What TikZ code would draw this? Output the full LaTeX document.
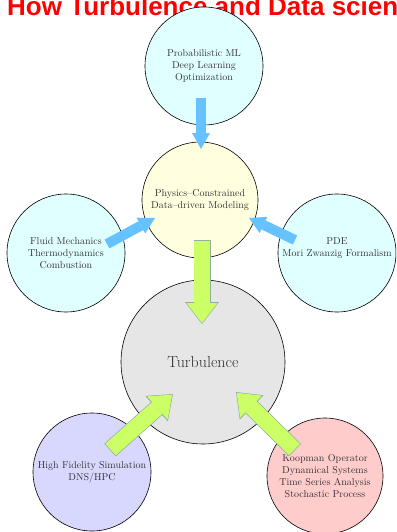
\documentclass[tikz,border=0pt]{standalone}
\usepackage{fontspec}
\usepackage{tikz}
\usetikzlibrary{arrows.meta,positioning,calc}
\newfontfamily\titlefont{Liberation Sans}
\definecolor{bubblecyan}{HTML}{E0FFFF}
\definecolor{bubbleyellow}{HTML}{FFFFE0}
\definecolor{bubblegray}{HTML}{E6E6E6}
\definecolor{bubbleblue}{HTML}{D8D8FF}
\definecolor{bubblepink}{HTML}{FFCCCC}
\definecolor{arrowblue}{HTML}{66C2FF}
\definecolor{arrowgreen}{HTML}{CCFF66}
\definecolor{arrowedge}{HTML}{8FAFA0}

\begin{document}
\begin{tikzpicture}[x=1pt, y=1pt]
    \tikzstyle{bubble} = [circle, draw=black, line width=0.6pt, minimum size=118pt, inner sep=0pt, align=center, text=black!80, font=\fontsize{10}{12}\selectfont]
    \tikzstyle{feed} = [line width=10pt, draw=arrowblue, -{Triangle[length=16pt, width=18pt, line width=0pt]}]
    \tikzstyle{edgeflow} = [line width=17pt, draw=arrowedge, -{Triangle[length=22pt, width=34pt, line width=0pt]}]
    \tikzstyle{flow} = [line width=15.6pt, draw=arrowgreen, shorten >=1pt, shorten <=0.7pt, -{Triangle[length=20pt, width=31pt, line width=0pt]}]

    \useasboundingbox (0,0) rectangle (396,-532);
    \clip (0,0) rectangle (396,-532);

    \node [anchor=base west, inner sep=0pt, text=red, font=\titlefont\bfseries\fontsize{26}{30}\selectfont] (title) at (7,-15.5) {How Turbulence and Data scien};

    \node [bubble, fill=bubblecyan] (ml) at (204,-66) {Probabilistic ML\\Deep Learning\\Optimization};
    \node [bubble, fill=bubbleyellow, minimum size=116pt] (phys) at (200,-200) {Physics--Constrained\\Data--driven Modeling};
    \node [bubble, fill=bubblecyan] (fluid) at (66,-253) {Fluid Mechanics\\Thermodynamics\\Combustion};
    \node [bubble, fill=bubblecyan] (pde) at (337,-253) {PDE\\Mori Zwanzig Formalism\\\mbox{}};
    \node [bubble, fill=bubblegray, minimum size=164pt, font=\fontsize{16}{19}\selectfont] (turb) at (203,-362) {Turbulence};
    \node [bubble, fill=bubbleblue] (hpc) at (92,-472) {High Fidelity Simulation\\DNS/HPC};
    \node [bubble, fill=bubblepink, minimum size=116pt] (koop) at (325,-476) {Koopman Operator\\Dynamical Systems\\Time Series Analysis\\Stochastic Process};

    % inputs into the modeling bubble
    \draw [feed] ([shift={(-3,-32)}]ml.center) -- ([shift={(1,51)}]phys.center);
    \draw [feed] ([shift={(41,9)}]fluid.center) -- ([shift={(-45,-18)}]phys.center);
    \draw [feed] ([shift={(-42,13)}]pde.center) -- ([shift={(49,-18)}]phys.center);

    % everything feeds turbulence
    \draw [edgeflow] ([shift={(2,-40)}]phys.center) -- ([shift={(-1,38)}]turb.center);
    \draw [flow] ([shift={(2,-40)}]phys.center) -- ([shift={(-1,38)}]turb.center);
    \draw [edgeflow] ([shift={(18,22)}]hpc.center) -- ([shift={(-30,-32)}]turb.center);
    \draw [flow] ([shift={(18,22)}]hpc.center) -- ([shift={(-30,-32)}]turb.center);
    \draw [edgeflow] ([shift={(-30,26)}]koop.center) -- ([shift={(33,-30)}]turb.center);
    \draw [flow] ([shift={(-30,26)}]koop.center) -- ([shift={(33,-30)}]turb.center);
\end{tikzpicture}
\end{document}
